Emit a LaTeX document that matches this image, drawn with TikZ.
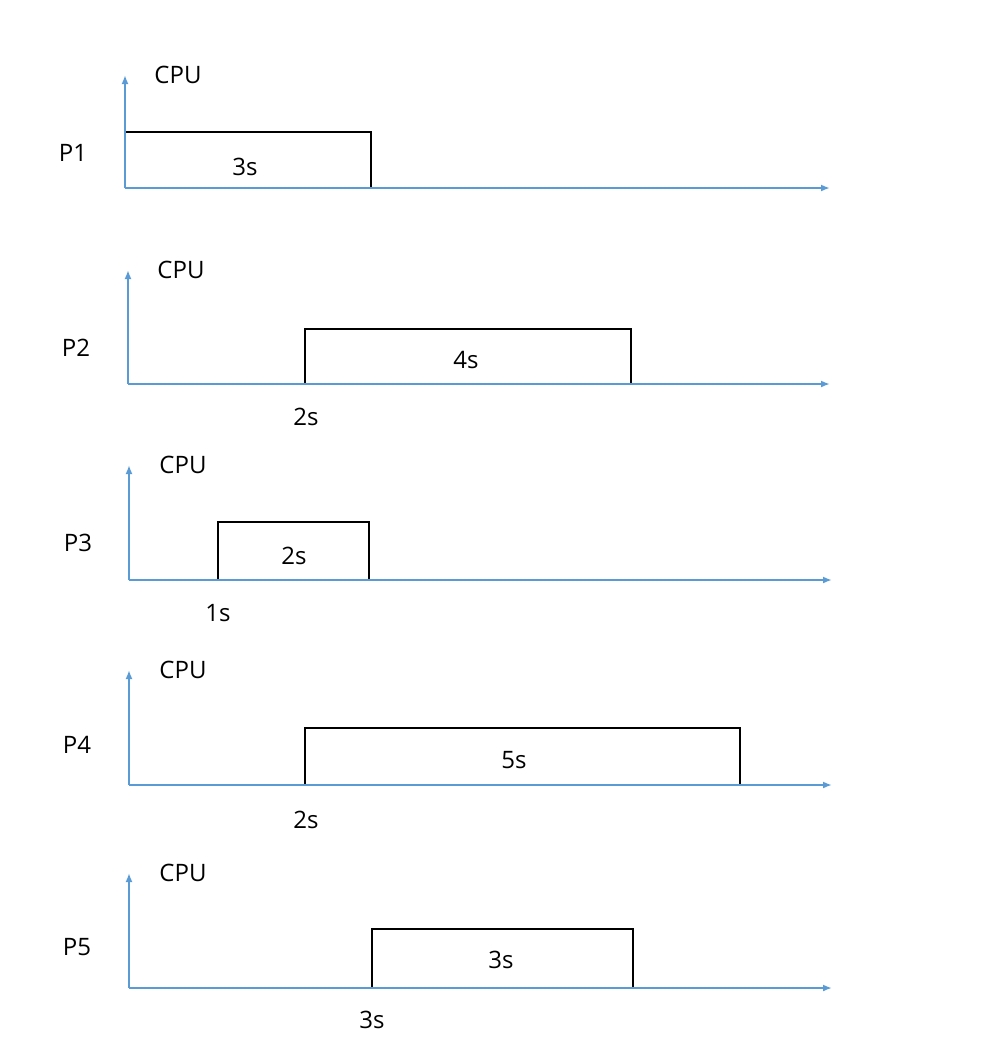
\documentclass[tikz,border=0pt]{standalone}
\usepackage{fontspec}
\setmainfont{Open Sans}
\definecolor{axblue}{RGB}{91,155,213}
\begin{document}
\begin{tikzpicture}[x=1pt,y=-1pt,
  ax/.style={draw=axblue,line width=2.5pt,-{Latex[length=9pt,width=7pt]}},
  bar/.style={draw=black,line width=1.8pt},
  lbl/.style={font=\fontsize{24}{26}\selectfont,inner sep=0pt}]
\usetikzlibrary{arrows.meta}
\useasboundingbox (0,0) rectangle (997,1047);
% panel 1
\coordinate (o1) at (125,188);
\draw[bar] (125,188) -- (125,132) -- (371,132) -- (371,188);
\draw[ax] (o1) -- (125,75);
\draw[ax] (o1) -- (830,188);
\node[lbl] (c1) at (178,75) {CPU};
\node[lbl] (p1) at (73,153) {P1};
\node[lbl] (d1) at (245,167) {3s};
% panel 2
\coordinate (o2) at (128,384);
\draw[bar] (305,384) -- (305,329) -- (631,329) -- (631,384);
\draw[ax] (o2) -- (128,270);
\draw[ax] (o2) -- (830,384);
\node[lbl] (c2) at (181,270) {CPU};
\node[lbl] (p2) at (76,348) {P2};
\node[lbl] (d2) at (466,360) {4s};
\node[lbl] (s2) at (306,417) {2s};
% panel 3
\coordinate (o3) at (129,580);
\draw[bar] (218,580) -- (218,522) -- (369,522) -- (369,580);
\draw[ax] (o3) -- (129,465);
\draw[ax] (o3) -- (832,580);
\node[lbl] (c3) at (183,465) {CPU};
\node[lbl] (p3) at (78,543) {P3};
\node[lbl] (d3) at (294,556) {2s};
\node[lbl] (s3) at (218,613) {1s};
% panel 4
\coordinate (o4) at (129,785);
\draw[bar] (305,785) -- (305,728) -- (740,728) -- (740,785);
\draw[ax] (o4) -- (129,670);
\draw[ax] (o4) -- (832,785);
\node[lbl] (c4) at (183,670) {CPU};
\node[lbl] (p4) at (77,745) {P4};
\node[lbl] (d4) at (514,760) {5s};
\node[lbl] (s4) at (306,820) {2s};
% panel 5
\coordinate (o5) at (129,988);
\draw[bar] (372,988) -- (372,929) -- (633,929) -- (633,988);
\draw[ax] (o5) -- (129,873);
\draw[ax] (o5) -- (832,988);
\node[lbl] (c5) at (183,873) {CPU};
\node[lbl] (p5) at (77,947) {P5};
\node[lbl] (d5) at (501,960) {3s};
\node[lbl] (s5) at (372,1020) {3s};
\end{tikzpicture}
\end{document}
